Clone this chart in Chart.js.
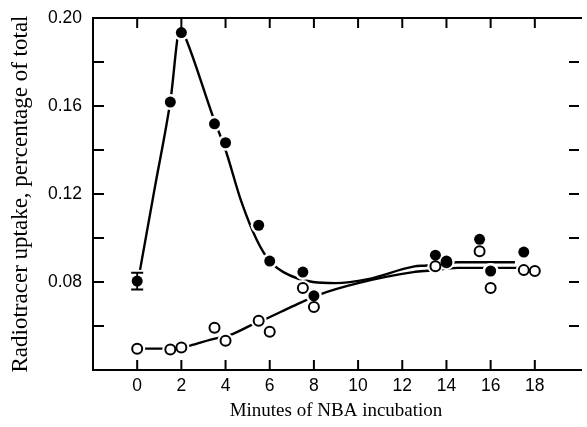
<!DOCTYPE html>
<html>
<head>
<meta charset="utf-8">
<title>Radiotracer uptake vs NBA incubation</title>
<style>
  body { margin: 0; background: #fff; }
  canvas { display: block; }
</style>
</head>
<body>
<canvas id="uptakeChart" width="587" height="427"></canvas>
<script src="https://cdn.jsdelivr.net/npm/chart.js"></script>
<script>
// values (minutes, percentage of total)
const filledMinutes = [0, 1.5, 2, 3.5, 4, 5.5, 6, 7.5, 8, 13.5, 14, 15.5, 16, 17.5];
const filledUptake  = [0.0804, 0.1618, 0.1934, 0.1519, 0.1433, 0.1058, 0.0895, 0.0845, 0.0737, 0.0922, 0.0895, 0.0994, 0.0850, 0.0936];
const filledError   = [0.0038, null, null, null, null, null, null, null, null, null, null, null, null, null];

const openMinutes = [0, 1.5, 2, 3.5, 4, 5.5, 6, 7.5, 8, 13.5, 14, 15.5, 16, 17.5, 18];
const openUptake  = [0.0497, 0.0493, 0.0502, 0.0592, 0.0533, 0.0624, 0.0574, 0.0773, 0.0686, 0.0872, 0.0890, 0.0940, 0.0773, 0.0854, 0.0850];

// hand-drawn fitted curves
const filledCurveMinutes = [0.13, 0.8, 1.5, 1.95, 2.2, 3.45, 4.0, 4.7, 5.42, 6.0, 6.62, 7.96, 8.98, 10.44, 12.5, 13.1, 14.5, 17.1];
const filledCurveUptake  = [0.0855, 0.123, 0.162, 0.1955, 0.1907, 0.1546, 0.140, 0.117, 0.099, 0.0895, 0.0845, 0.0800, 0.0795, 0.0813, 0.0870, 0.0875, 0.0890, 0.0890];

const openCurveMinutes = [0, 1.5, 2.0, 2.4, 3.33, 4.22, 5.29, 5.87, 7.0, 8.22, 10.0, 12.5, 13.3, 14.5, 17.6];
const openCurveUptake  = [0.0497, 0.0497, 0.0502, 0.0511, 0.0538, 0.0560, 0.0610, 0.0634, 0.0688, 0.0742, 0.0795, 0.0845, 0.0852, 0.0864, 0.0864];

// axis ticks
const minuteTicks  = [0, 2, 4, 6, 8, 10, 12, 14, 16, 18];
const uptakeTicks  = [0.06, 0.08, 0.10, 0.12, 0.14, 0.16, 0.18];
const uptakeLabels = ['0.08', '0.12', '0.16', '0.20'];

const toXY = (xs, ys) => xs.map((m, i) => ({x: m, y: ys[i]}));

// frame, inward tick marks and the error bar
const frameTicks = {
  id: 'frameTicks',
  afterDatasetsDraw(chart) {
    const {ctx, chartArea: a, scales: {x, y}} = chart;
    ctx.save();
    ctx.strokeStyle = '#000';
    ctx.lineWidth = 2;
    ctx.beginPath();
    ctx.moveTo(a.right + 3, a.top);
    ctx.lineTo(a.left, a.top);
    ctx.lineTo(a.left, a.bottom);
    ctx.lineTo(a.right + 3, a.bottom);
    minuteTicks.forEach(m => {
      const px = x.getPixelForValue(m);
      ctx.moveTo(px, a.top); ctx.lineTo(px, a.top + 10);
      ctx.moveTo(px, a.bottom); ctx.lineTo(px, a.bottom - 10);
    });
    uptakeTicks.forEach(v => {
      const py = y.getPixelForValue(v);
      ctx.moveTo(a.left, py); ctx.lineTo(a.left + 11, py);
      ctx.moveTo(a.right, py); ctx.lineTo(a.right - 10, py);
    });
    ctx.stroke();

    ctx.lineWidth = 1.8;
    ctx.beginPath();
    filledError.forEach((e, i) => {
      if (e == null) return;
      const px = x.getPixelForValue(filledMinutes[i]);
      const hi = y.getPixelForValue(filledUptake[i] + e);
      const lo = y.getPixelForValue(filledUptake[i] - e);
      ctx.moveTo(px, hi); ctx.lineTo(px, lo);
      ctx.moveTo(px - 6, hi); ctx.lineTo(px + 6, hi);
      ctx.moveTo(px - 6, lo); ctx.lineTo(px + 6, lo);
    });
    ctx.stroke();
    ctx.restore();
  }
};

const curveStyle = {
  showLine: true,
  borderColor: '#000',
  borderWidth: 2.4,
  pointRadius: 0,
  cubicInterpolationMode: 'monotone',
  order: 3
};
const haloStyle = {
  pointRadius: 8,
  pointBackgroundColor: '#fff',
  pointBorderWidth: 0,
  showLine: false,
  order: 2
};

const data = {
  datasets: [
    {
      label: 'filled',
      data: toXY(filledMinutes, filledUptake),
      pointRadius: 5.5,
      pointBackgroundColor: '#000',
      pointBorderWidth: 0,
      showLine: false,
      order: 0
    },
    {
      label: 'open',
      data: toXY(openMinutes, openUptake),
      pointRadius: 5,
      pointBackgroundColor: '#fff',
      pointBorderColor: '#000',
      pointBorderWidth: 2,
      showLine: false,
      order: 0
    },
    Object.assign({label: 'filled halo', data: toXY(filledMinutes, filledUptake)}, haloStyle),
    Object.assign({label: 'open halo', data: toXY(openMinutes, openUptake)}, haloStyle),
    Object.assign({label: 'filled fit', data: toXY(filledCurveMinutes, filledCurveUptake)}, curveStyle),
    Object.assign({label: 'open fit', data: toXY(openCurveMinutes, openCurveUptake)}, curveStyle)
  ]
};

const config = {
  type: 'scatter',
  data: data,
  options: {
    responsive: false,
    animation: false,
    layout: { padding: { top: 18, left: 0, right: 0, bottom: 0 } },
    plugins: { legend: { display: false }, tooltip: { enabled: false } },
    scales: {
      x: {
        type: 'linear',
        min: -2,
        max: 20,
        grid: { display: false },
        border: { display: false },
        afterFit: s => { s.height = 57; },
        ticks: {
          stepSize: 2,
          autoSkip: false,
          maxRotation: 0,
          padding: -2,
          color: '#000',
          font: { family: 'Liberation Sans', size: 17.5 },
          callback: v => minuteTicks.includes(Math.round(v)) ? String(Math.round(v)) : ''
        },
        title: {
          display: true,
          text: 'Minutes of NBA incubation',
          color: '#000',
          font: { family: 'Liberation Serif', size: 19 },
          padding: { top: 0, bottom: 5 }
        }
      },
      y: {
        type: 'linear',
        min: 0.04,
        max: 0.20,
        grid: { display: false },
        border: { display: false },
        afterFit: s => { s.width = 93; },
        ticks: {
          stepSize: 0.02,
          autoSkip: false,
          padding: 3,
          color: '#000',
          font: { family: 'Liberation Sans', size: 17.5 },
          callback: v => uptakeLabels.includes(v.toFixed(2)) ? v.toFixed(2) : ''
        },
        title: {
          display: true,
          text: 'Radiotracer uptake, percentage of total',
          color: '#000',
          font: { family: 'Liberation Serif', size: 23 },
          padding: { top: 7, bottom: 0 }
        }
      }
    }
  },
  plugins: [frameTicks]
};

const uptakeChart = new Chart(document.getElementById('uptakeChart'), config);
</script>
</body>
</html>
